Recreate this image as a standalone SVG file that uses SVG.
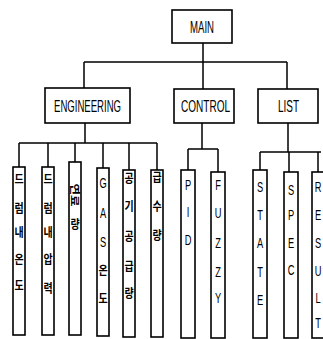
<svg xmlns="http://www.w3.org/2000/svg" width="323" height="339" viewBox="0 0 323 339">
<style>
rect{fill:#fff;stroke:#000;stroke-width:1.6}
.c line,.c path{stroke:#000;stroke-width:1.5;fill:none}
text{font-family:"Liberation Sans",Arial,sans-serif;fill:#000;text-anchor:middle}
.h{font-size:17px}
.l{font-size:15px}
.k{font-family:"Noto Sans CJK KR","Noto Sans",sans-serif;font-size:12.5px;font-weight:bold}
</style>
<rect x="0" y="0" width="323" height="339" style="stroke:none"/>
<g class="c" id="connectors">
<path d="M203 43V62M84 62H287M84 62V88M203 62V89M287 62V89"/>
<path d="M85 123V143M19 143H157M19 143V167M48 143V167M75 143V162M103 143V168M129 143V170M157 143V170"/>
<path d="M202 123V149M188 149H218M188 149V170M218 149V172"/>
<path d="M288 123V152M260 152H321M260 152V170M289 152V172M318 152V172"/>
</g>
<g id="main"><rect x="172" y="10" width="60" height="33"/><text class="h" x="202" y="33" textLength="24" lengthAdjust="spacingAndGlyphs">MAIN</text></g>
<g id="engineering"><rect x="45" y="88" width="85" height="35"/><text class="h" x="87.5" y="112" textLength="67" lengthAdjust="spacingAndGlyphs">ENGINEERING</text></g>
<g id="control"><rect x="174" y="89" width="60" height="34"/><text class="h" x="205.5" y="112" textLength="49" lengthAdjust="spacingAndGlyphs">CONTROL</text></g>
<g id="list"><rect x="258" y="89" width="60" height="34"/><text class="h" x="288.5" y="112" textLength="21" lengthAdjust="spacingAndGlyphs">LIST</text></g>

<g id="drum-temp"><rect x="13" y="167" width="12" height="168"/>
<g transform="translate(19,0) scale(0.8,1)"><text class="k" y="184">드</text><text class="k" y="213">럼</text><text class="k" y="237">내</text><text class="k" y="264">온</text><text class="k" y="290">도</text></g></g>
<g id="drum-press"><rect x="42" y="167" width="12" height="168"/>
<g transform="translate(48,0) scale(0.8,1)"><text class="k" y="184">드</text><text class="k" y="213">럼</text><text class="k" y="237">내</text><text class="k" y="264">압</text><text class="k" y="293">력</text></g></g>
<g id="fuel"><rect x="69" y="162" width="12" height="173"/>
<text class="k" transform="translate(75,195) rotate(90) scale(1,0.8)" y="4.5">연료</text>
<g transform="translate(75,0) scale(0.8,1)"><text class="k" y="229">량</text></g></g>
<g id="gas-temp"><rect x="97" y="168" width="12" height="168"/>
<g transform="translate(103,0) scale(0.62,1)"><text class="l" y="188">G</text><text class="l" y="218">A</text><text class="l" y="247">S</text></g>
<g transform="translate(103,0) scale(0.8,1)"><text class="k" y="275">온</text><text class="k" y="303">도</text></g></g>
<g id="air-supply"><rect x="123" y="170" width="12" height="167"/>
<g transform="translate(129,0) scale(0.8,1)"><text class="k" y="183">공</text><text class="k" y="211">기</text><text class="k" y="241">공</text><text class="k" y="271">급</text><text class="k" y="298">량</text></g></g>
<g id="feedwater"><rect x="151" y="170" width="12" height="167"/>
<g transform="translate(157,0) scale(0.8,1)"><text class="k" y="182">급</text><text class="k" y="211">수</text><text class="k" y="240">량</text></g></g>

<g id="pid"><rect x="181" y="170" width="14" height="168"/>
<g transform="translate(188,0) scale(0.62,1)"><text class="l" y="190">P</text><text class="l" y="217">I</text><text class="l" y="245">D</text></g></g>
<g id="fuzzy"><rect x="211" y="172" width="14" height="166"/>
<g transform="translate(218,0) scale(0.62,1)"><text class="l" y="190">F</text><text class="l" y="218">U</text><text class="l" y="248">Z</text><text class="l" y="277">Z</text><text class="l" y="303">Y</text></g></g>
<g id="state"><rect x="253" y="170" width="14" height="168"/>
<g transform="translate(260,0) scale(0.62,1)"><text class="l" y="192">S</text><text class="l" y="220">T</text><text class="l" y="248">A</text><text class="l" y="277">T</text><text class="l" y="305">E</text></g></g>
<g id="spec"><rect x="284" y="172" width="14" height="166"/>
<g transform="translate(291,0) scale(0.62,1)"><text class="l" y="195">S</text><text class="l" y="220">P</text><text class="l" y="248">E</text><text class="l" y="275">C</text></g></g>
<g id="result"><rect x="312" y="172" width="14" height="166"/>
<g transform="translate(318,0) scale(0.62,1)"><text class="l" y="192">R</text><text class="l" y="220">E</text><text class="l" y="248">S</text><text class="l" y="276">U</text><text class="l" y="303">L</text><text class="l" y="328">T</text></g></g>
</svg>
